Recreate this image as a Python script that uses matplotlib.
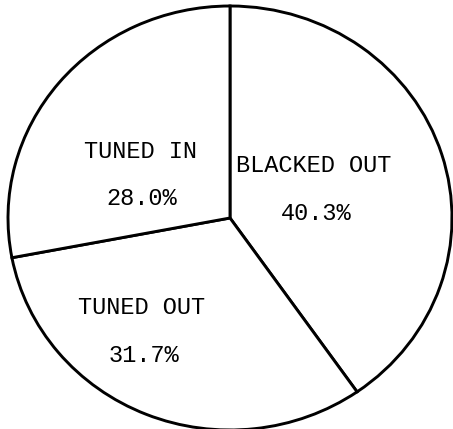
import matplotlib.pyplot as plt

# data
labels = ["BLACKED OUT", "TUNED OUT", "TUNED IN"]
shares = [40.3, 31.7, 28.0]

# label positions in pixels (x, y of the name line; percent goes below)
label_px = [(314, 166), (142, 308), (140, 151)]

W, H = 453, 429
CX, CY = 230, 218      # pie centre in pixels
RX, RY = 222, 212      # scan is a bit squashed

fig = plt.figure(figsize=(W / 100, H / 100), dpi=100)
ax = fig.add_axes([0, 0, 1, 1])
ax.axis("off")

ax.pie(shares, startangle=90, counterclock=False, radius=1,
       colors=["white"] * len(shares),
       wedgeprops=dict(edgecolor="black", linewidth=2.1))
ax.set_aspect("auto")
ax.set_xlim(-CX / RX, (W - CX) / RX)
ax.set_ylim(-(H - CY) / RY, CY / RY)


def px(x, y):
    return (x - CX) / RX, (CY - y) / RY


font = dict(family=["Liberation Mono", "DejaVu Sans Mono"], fontsize=17,
            ha="center", va="center", color="black")
for name, val, (x, y) in zip(labels, shares, label_px):
    ax.text(*px(x, y), name, **font)
    ax.text(*px(x + 2, y + 47), f"{val:.1f}%", **font)

fig.savefig("out.png", dpi=100, facecolor="white")
